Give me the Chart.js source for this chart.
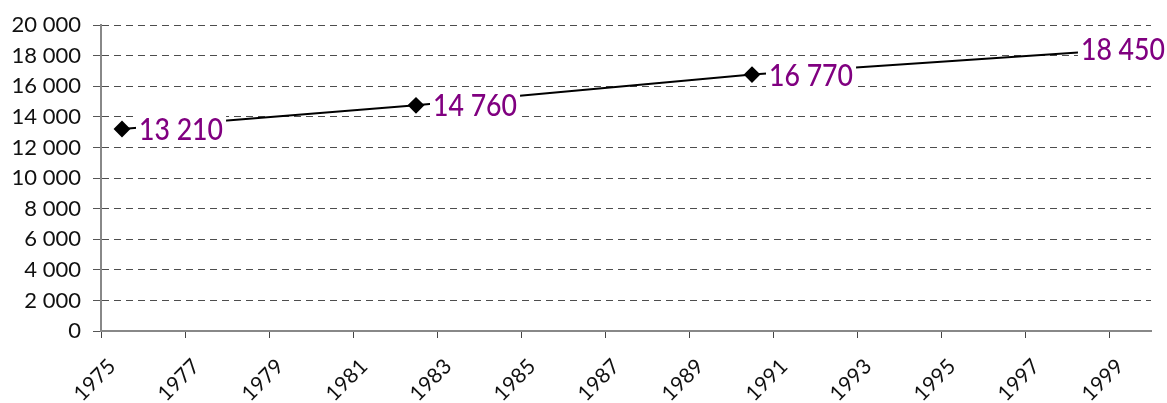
<!DOCTYPE html>
<html>
<head>
<meta charset="utf-8">
<script src="https://cdn.jsdelivr.net/npm/chart.js@4.4.0/dist/chart.umd.min.js"></script>
<style>
  html, body { margin: 0; padding: 0; background: #fff; }
  #wrap { width: 1167px; height: 403px; }
</style>
</head>
<body>
<div id="wrap"><canvas id="chart" width="1167" height="403"></canvas></div>
<script>
// category axis: one slot per year, labels shown every other year
const yearLabels = ['1975', '1976', '1977', '1978', '1979', '1980', '1981', '1982', '1983',
    '1984', '1985', '1986', '1987', '1988', '1989', '1990', '1991', '1992', '1993',
    '1994', '1995', '1996', '1997', '1998', '1999'];
// census years and values
const censusYears = ['1975', '1982', '1990', '1999'];
const censusValues = [13210, 14760, 16770, 18450];

const yMin = 0;
const yMax = 20000;
const yStep = 2000;

function fmt(v) {
    return String(v).replace(/\B(?=(\d{3})+(?!\d))/g, ' ');
}

// value labels with a white box that hides the line behind them
// (narrow look: Lato squeezed horizontally)
const valueLabels = {
    id: 'valueLabels',
    afterDatasetsDraw(chart) {
        const ctx = chart.ctx;
        const meta = chart.getDatasetMeta(0);
        const sx = 0.86;
        ctx.save();
        ctx.font = '500 31px Lato, sans-serif';
        ctx.textBaseline = 'middle';
        ctx.textAlign = 'left';
        meta.data.forEach((pt, i) => {
            const text = fmt(censusValues[i]);
            const w = ctx.measureText(text).width * sx;
            let x = pt.x + 17;
            if (x + w > chart.width - 2) x = chart.width - 2 - w;
            const y = pt.y;
            ctx.fillStyle = '#fff';
            ctx.fillRect(x - 3, y - 14, w + 6, 28);
            ctx.save();
            ctx.translate(x, y + 1);
            ctx.scale(sx, 1);
            ctx.fillStyle = '#800080';
            ctx.fillText(text, 0, 0);
            ctx.restore();
        });
        ctx.restore();
    }
};

new Chart(document.getElementById('chart'), {
    type: 'line',
    data: {
        labels: yearLabels,
        datasets: [{
            data: censusYears.map((yr, i) => ({ x: yr, y: censusValues[i] })),
            borderColor: '#000',
            borderWidth: 2,
            backgroundColor: '#000',
            pointStyle: 'rectRot',
            pointRadius: 7,
            pointHoverRadius: 7,
            tension: 0,
            fill: false
        }]
    },
    options: {
        responsive: false,
        animation: false,
        layout: { padding: { left: 0, right: 16, top: 25, bottom: 0 } },
        plugins: {
            legend: { display: false },
            tooltip: { enabled: false }
        },
        scales: {
            x: {
                type: 'category',
                offset: true,
                grid: {
                    offset: true,
                    drawOnChartArea: false,
                    tickLength: 7,
                    lineWidth: 1,
                    color: (c) => (c.index % 2 === 0 ? '#444' : 'rgba(0,0,0,0)')
                },
                border: { color: '#888', width: 2 },
                ticks: {
                    autoSkip: false,
                    minRotation: 45,
                    maxRotation: 45,
                    labelOffset: -10,
                    padding: 16,
                    color: '#111',
                    font: { family: 'Lato, sans-serif', size: 21 },
                    callback: function (v, i) {
                        return i % 2 === 0 ? this.getLabelForValue(v) : '';
                    }
                },
                afterFit: (s) => { s.height = 72; }
            },
            y: {
                min: yMin,
                max: yMax,
                grid: {
                    color: '#4d4d4d',
                    lineWidth: 1,
                    tickLength: 8,
                    tickColor: '#555',
                    tickBorderDash: []
                },
                border: { color: '#888', width: 2, dash: [7, 5] },
                ticks: {
                    stepSize: yStep,
                    padding: 12,
                    color: '#111',
                    font: { family: 'Lato, sans-serif', size: 22 },
                    callback: (v) => fmt(v)
                },
                afterFit: (s) => { s.width = 101; }
            }
        }
    },
    plugins: [valueLabels]
});
</script>
</body>
</html>
